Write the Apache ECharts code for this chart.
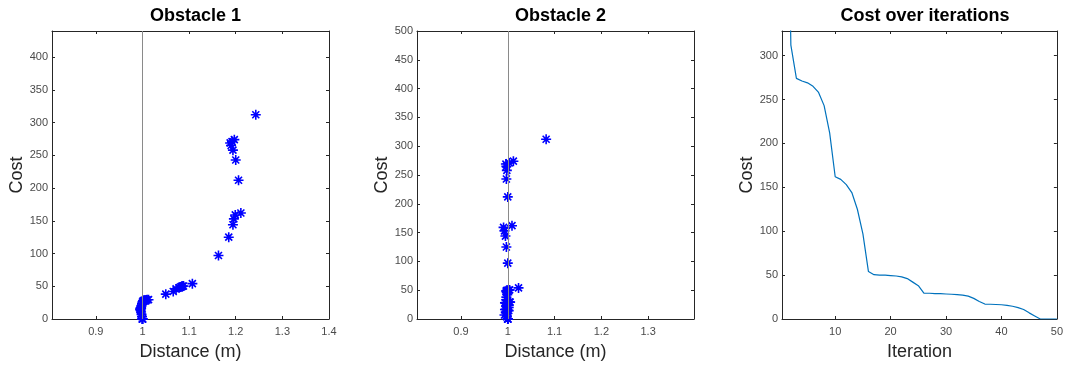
<!DOCTYPE html>
<html>
<head>
<meta charset="utf-8">
<script src="https://cdn.jsdelivr.net/npm/echarts@6/dist/echarts.min.js"></script>
<style>
html,body{margin:0;padding:0;background:#fff;}
#chart{width:1066px;height:370px;}
</style>
</head>
<body>
<div id="chart"></div>
<script>
// ---- data ----
const iterations = [1,2,3,4,5,6,7,8,9,10,11,12,13,14,15,16,17,18,19,20,21,22,23,24,25,26,27,28,29,30,31,32,33,34,35,36,37,38,39,40,41,42,43,44,45,46,47,48,49,50];
const costs = [700,312,274,271,269,265,258,243,212,162,159,153,144,125,97,54,50.5,50,50,49.5,49,48,46,42,38,29.5,29.3,29,28.8,28.5,28.2,27.8,27.2,26,23.5,20,17,16.8,16.5,16.2,15.5,14.5,13,10.8,7,3.5,0,0,0,0];
// distances for iterations 2..50
const dist1 = [1.243,1.197,1.192,1.188,1.190,1.194,1.200,1.206,1.211,1.199,1.196,1.194,1.185,1.163,1.107,1.088,1.086,1.085,1.084,1.082,1.079,1.072,1.066,1.050,1.013,1.010,1.008,1.006,1.004,1.003,1.002,1.001,1.000,0.999,0.998,0.997,0.996,0.996,0.997,0.996,0.995,0.996,0.997,0.998,0.999,1.000,1.000,1.000,1.000];
const dist2 = [1.082,1.012,1.003,0.996,0.997,0.998,0.997,1.000,1.009,0.991,0.993,0.995,0.997,1.000,1.023,1.004,1.002,0.999,0.998,0.997,0.997,0.998,0.999,0.997,1.004,1.005,1.003,1.001,0.996,0.994,0.995,0.997,0.999,1.001,1.002,0.998,0.996,0.994,0.997,1.000,1.002,0.999,0.996,0.993,0.998,1.000,1.000,1.000,1.000];
const xTicks1 = [0.9,1,1.1,1.2,1.3,1.4];
const xTicks2 = [0.9,1,1.1,1.2,1.3];
const xTicks3 = [10,20,30,40,50];
const yTicks1 = [0,50,100,150,200,250,300,350,400];
const yTicks2 = [0,50,100,150,200,250,300,350,400,450,500];
const yTicks3 = [0,50,100,150,200,250,300];
const titles = ['Obstacle 1','Obstacle 2','Cost over iterations'];
const xNames = ['Distance (m)','Distance (m)','Iteration'];
const yName = 'Cost';

// ---- build ----
const FONT = '"Liberation Sans", Arial, Helvetica, sans-serif';
const AX = '#262626';
const star = 'path://M0,4.2L10,4.2L10,5.8L0,5.8Z M4.2,0L5.8,0L5.8,10L4.2,10Z M2.07,0.93L9.07,7.93L7.93,9.07L0.93,2.07Z M7.93,0.93L9.07,2.07L2.07,9.07L0.93,7.93Z';

const grids = [
  {left:52, top:31, width:277, height:288},
  {left:417, top:31, width:277, height:288},
  {left:782, top:31, width:276, height:288}
];
const xRanges = [[0.806,1.4],[0.806,1.398],[0.4,50]];
const yRanges = [[0,440],[0,500],[0,328]];
const xT = [xTicks1,xTicks2,xTicks3];
const yT = [yTicks1,yTicks2,yTicks3];

const xAxes = [], yAxes = [];
grids.forEach((g,i)=>{
  const tickCfg = (vals)=>({show:true, inside:true, length:3, lineStyle:{color:AX,width:1}, customValues:vals});
  xAxes.push({
    type:'value', gridIndex:i, min:xRanges[i][0], max:xRanges[i][1], position:'bottom',
    name:xNames[i], nameLocation:'middle', nameGap:24,
    nameTextStyle:{fontFamily:FONT, fontSize:18, color:'#262626'},
    axisLine:{show:true, onZero:false, lineStyle:{color:AX,width:1}},
    axisTick:tickCfg(xT[i]),
    axisLabel:{show:true, customValues:xT[i], margin:7, fontFamily:FONT, fontSize:11, color:'#4a4a4a'},
    splitLine:{show:false}
  });
  xAxes.push({
    type:'value', gridIndex:i, min:xRanges[i][0], max:xRanges[i][1], position:'top',
    axisLine:{show:true, onZero:false, lineStyle:{color:AX,width:1}},
    axisTick:tickCfg(xT[i]), axisLabel:{show:false}, splitLine:{show:false}
  });
  yAxes.push({
    type:'value', gridIndex:i, min:yRanges[i][0], max:yRanges[i][1], position:'left',
    name:yName, nameLocation:'middle', nameGap:26, nameRotate:90,
    nameTextStyle:{fontFamily:FONT, fontSize:18, color:'#262626'},
    axisLine:{show:true, onZero:false, lineStyle:{color:AX,width:1}},
    axisTick:tickCfg(yT[i]),
    axisLabel:{show:true, customValues:yT[i], margin:4, fontFamily:FONT, fontSize:11, color:'#4a4a4a'},
    splitLine:{show:false}
  });
  yAxes.push({
    type:'value', gridIndex:i, min:yRanges[i][0], max:yRanges[i][1], position:'right',
    axisLine:{show:true, onZero:false, lineStyle:{color:AX,width:1}},
    axisTick:tickCfg(yT[i]), axisLabel:{show:false}, splitLine:{show:false}
  });
});

const pts1 = dist1.map((d,k)=>[d, costs[k+1]]);
const pts2 = dist2.map((d,k)=>[d, costs[k+1]]);
const linePts = iterations.map((it,k)=>[it, costs[k]]);

const vline = {
  silent:true, symbol:['none','none'], label:{show:false},
  lineStyle:{color:'#8a8a8a', width:1, type:'solid'},
  data:[{xAxis:1}], animation:false
};

const option = {
  animation:false,
  backgroundColor:'#ffffff',
  title: titles.map((t,i)=>({
    text:t, left:grids[i].left + grids[i].width/2, top:2, textAlign:'center',
    textStyle:{fontFamily:FONT, fontSize:18, fontWeight:'bold', color:'#000'}
  })),
  grid: grids,
  xAxis: xAxes,
  yAxis: yAxes,
  series: [
    {type:'scatter', xAxisIndex:0, yAxisIndex:0, data:pts1, symbol:star, symbolSize:10,
     itemStyle:{color:'#0000ff', opacity:1}, markLine:vline, clip:true, z:3},
    {type:'scatter', xAxisIndex:2, yAxisIndex:2, data:pts2, symbol:star, symbolSize:10,
     itemStyle:{color:'#0000ff', opacity:1}, markLine:vline, clip:true, z:3},
    {type:'line', xAxisIndex:4, yAxisIndex:4, data:linePts, showSymbol:false, symbol:'none',
     lineStyle:{color:'#0072bd', width:1.2}, clip:true}
  ]
};
const chart = echarts.init(document.getElementById('chart'), null, {renderer:'canvas'});
chart.setOption(option);
</script>
</body>
</html>
